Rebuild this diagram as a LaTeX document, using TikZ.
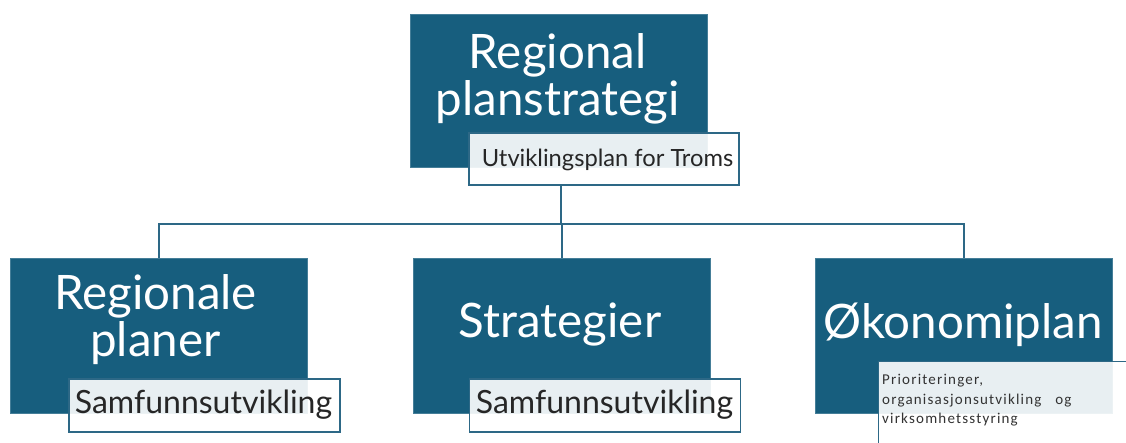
\documentclass[tikz,border=0pt]{standalone}
\usepackage{fontspec}
\setmainfont{Lato}
\newfontfamily\smallfont[LetterSpace=8]{Carlito}
\definecolor{boxblue}{RGB}{23,94,126}
\definecolor{lineblue}{RGB}{45,104,134}
\tikzset{
	box/.style={fill=boxblue, draw=boxblue!80!white, line width=0.8pt, minimum width=297pt, minimum height=155pt, inner sep=0pt},
	bigtxt/.style={text=white, font=\fontsize{47.5}{47}\selectfont, align=center, inner sep=0pt},
	tag/.style={fill=white, fill opacity=0.9, text opacity=1, draw=lineblue, line width=1.2pt, inner sep=0pt},
	tagtxt/.style={font=\fontsize{32}{34}\selectfont, text=black!85},
	link/.style={draw=lineblue, line width=2pt}
}
\begin{document}
\begin{tikzpicture}[x=1pt, y=-1pt]
	\useasboundingbox (0, 0) rectangle (1126, 443);
	\clip (0, 0) rectangle (1126, 443);

	% top
	\node[box, minimum height=153pt] (rps) at (559, 90.5) {};
	\node[bigtxt] (rpsT) at (557.5, 79) {Regional\\planstrategi};
	\node[tag, minimum width=270pt, minimum height=52pt] (utv) at (604, 159) {};
	\node[tagtxt, font=\fontsize{23.7}{25}\selectfont] (utvT) at (607.5, 160) {Utviklingsplan for Troms};

	% bottom row
	\node[box] (regpl) at (159, 335.5) {};
	\node[box] (strat) at (561.5, 335.5) {};
	\node[box] (okon) at (963.5, 335.5) {};
	\node[bigtxt] (regplT) at (155.5, 320) {Regionale\\planer};
	\node[bigtxt] (stratT) at (560, 325) {Strategier};
	\node[bigtxt] (okonT) at (963, 325) {Økonomiplan};

	\node[tag, minimum width=271pt, minimum height=53pt] (samf1) at (204.5, 405.5) {};
	\node[tagtxt] (samf1T) at (203.5, 405) {Samfunnsutvikling};
	\node[tag, minimum width=271pt, minimum height=53pt] (samf2) at (605, 405.5) {};
	\node[tagtxt] (samf2T) at (604.5, 405) {Samfunnsutvikling};
	\node[tag, anchor=north west, minimum width=270pt, minimum height=95pt] (prio) at (878, 361) {};
	\node[anchor=north west, font=\smallfont\fontsize{15}{19.5}\selectfont, align=left, inner sep=0pt, text=black!80] (prioT) at (882, 374) {Prioriteringer,\\organisasjonsutvikling\ \ \ og\\virksomhetsstyring};

	% connectors
	\coordinate (bus) at (561, 224);
	\draw[link] (utv.south -| bus) -- (bus);
	\foreach \n in {regpl, strat, okon}{
		\draw[link] (bus) -| (\n.north);
	}
\end{tikzpicture}
\end{document}
